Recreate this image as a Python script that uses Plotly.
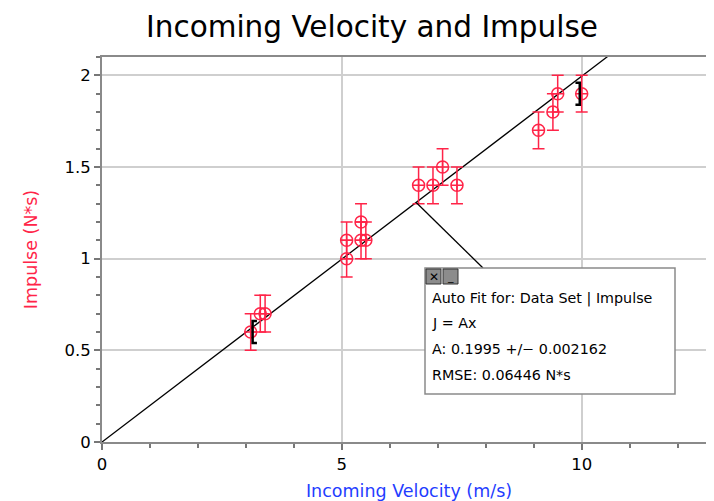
import plotly.graph_objects as go

# ---- data ----
velocity = [3.1, 3.3, 3.4, 5.1, 5.1, 5.4, 5.4, 5.5, 6.6, 6.9, 7.1, 7.4, 9.1, 9.4, 9.5, 10.0]
impulse  = [0.6, 0.7, 0.7, 1.0, 1.1, 1.2, 1.1, 1.1, 1.4, 1.4, 1.5, 1.4, 1.7, 1.8, 1.9, 1.9]
impulse_err = [0.1] * len(impulse)
fit_A = 0.1995
fit_A_err = 0.002162
fit_rmse = 0.06446
fit_range = [3.1, 10.0]
x_ticks = [0, 5, 10]
y_ticks = [0, 0.5, 1, 1.5, 2]

RED = "#ff2448"
BLUE = "#1f3dff"
FONT = "DejaVu Sans"

OFF = 8  # page body margin
W, H = 714, 501
# plot area in window pixels
PL, PR, PT, PB = 102, 716, 57, 442
L = PL - OFF
R = W - (PR - OFF)
T = PT - OFF
B = H - (PB - OFF)
XR = [0, 12.8]
YR = [0, 2.1]

def px_x(px):
    return XR[0] + (px - PL) / (PR - PL) * (XR[1] - XR[0])

def px_y(py):
    return YR[0] + (PB - py) / (PB - PT) * (YR[1] - YR[0])

fig = go.Figure()

# fit line
fit_x = [XR[0], XR[1]]
fit_y = [fit_A * v for v in fit_x]
fig.add_trace(go.Scatter(x=fit_x, y=fit_y, mode="lines",
                         line=dict(color="black", width=1.3), hoverinfo="skip"))

# data
fig.add_trace(go.Scatter(
    x=velocity, y=impulse, mode="markers",
    marker=dict(symbol="circle-cross-open", size=12, color=RED, line=dict(width=1.5, color=RED)),
    error_y=dict(type="data", array=impulse_err, visible=True, color=RED, thickness=1.5, width=6),
))

# fit range brackets
first_y = impulse[velocity.index(fit_range[0])]
last_y = impulse[velocity.index(fit_range[1])]
bh = 0.06
bw = 0.1
fig.add_trace(go.Scatter(
    x=[fit_range[0] + bw + 0.03, fit_range[0] + 0.04, fit_range[0] + 0.04, fit_range[0] + bw + 0.03],
    y=[first_y + bh, first_y + bh, first_y - bh, first_y - bh],
    mode="lines", line=dict(color="black", width=2.5), hoverinfo="skip"))
fig.add_trace(go.Scatter(
    x=[fit_range[1] - bw - 0.03, fit_range[1] - 0.04, fit_range[1] - 0.04, fit_range[1] - bw - 0.03],
    y=[last_y + bh, last_y + bh, last_y - bh, last_y - bh],
    mode="lines", line=dict(color="black", width=2.5), hoverinfo="skip"))

# annotation box geometry (window pixels)
bx0, by0, bx1, by1 = 425, 268, 675, 394
shapes = []
lead_x = 6.55
shapes.append(dict(type="line", xref="x", yref="y", x0=lead_x, y0=fit_A * lead_x,
                   x1=px_x(483), y1=px_y(by0), line=dict(color="black", width=1.3)))
shapes.append(dict(type="rect", xref="x", yref="y", x0=px_x(bx0), y0=px_y(by0), x1=px_x(bx1), y1=px_y(by1),
                   fillcolor="white", line=dict(color="#8a8a8a", width=1.5), layer="above"))
# buttons
for (a, b) in [(426, 441), (443, 458)]:
    shapes.append(dict(type="rect", xref="x", yref="y", x0=px_x(a), y0=px_y(269), x1=px_x(b), y1=px_y(284),
                       fillcolor="#8c8c8c", line=dict(color="#333", width=1), layer="above"))

annotations = [
    dict(x=px_x(433.5), y=px_y(276.5), xref="x", yref="y", text="✕", showarrow=False,
         font=dict(family=FONT, size=12, color="black")),
    dict(x=px_x(450.5), y=px_y(276.5), xref="x", yref="y", text="_", showarrow=False,
         font=dict(family=FONT, size=11, color="black")),
]
lines = ["Auto Fit for: Data Set | Impulse", "J = Ax",
         f"A: {fit_A} +/\u2212 {fit_A_err}", f"RMSE: {fit_rmse} N*s"]
line_y = [298, 323, 349, 375]
for t, yy in zip(lines, line_y):
    annotations.append(dict(x=px_x(430), y=px_y(yy), xref="x", yref="y", text=t, showarrow=False,
                            xanchor="left", yanchor="middle",
                            font=dict(family=FONT, size=14.3, color="black")))

fig.update_layout(
    width=W, height=H,
    margin=dict(l=L, r=R, t=T, b=B),
    paper_bgcolor="white", plot_bgcolor="white",
    showlegend=False,
    font=dict(family=FONT, size=15, color="black"),
    title=dict(text="Incoming Velocity and Impulse", xref="container", yref="container",
               x=(372 - OFF) / W, xanchor="center", y=1 - (27 - OFF) / H, yanchor="middle",
               font=dict(family=FONT, size=29.5, color="black")),
    shapes=shapes,
    annotations=annotations,
)
fig.update_xaxes(
    range=XR, tickvals=x_ticks, ticks="outside", ticklen=6, tickwidth=1.5, tickcolor="#777",
    showline=True, linecolor="#8a8a8a", linewidth=2, mirror=True,
    showgrid=True, gridcolor="#cfcfcf", gridwidth=1.5, zeroline=False,
    minor=dict(dtick=1, ticks="outside", ticklen=4, tickcolor="#777", showgrid=False),
    title=dict(text="Incoming Velocity (m/s)", font=dict(family=FONT, size=17.5, color=BLUE), standoff=12),
    tickfont=dict(size=16.5, color="black"),
)
fig.update_yaxes(
    range=YR, tickvals=y_ticks, ticks="outside", ticklen=6, tickwidth=1.5, tickcolor="#777",
    showline=True, linecolor="#8a8a8a", linewidth=2,
    showgrid=True, gridcolor="#cfcfcf", gridwidth=1.5, zeroline=False,
    minor=dict(dtick=0.1, ticks="outside", ticklen=4, tickcolor="#777", showgrid=False),
    title=dict(text="Impulse (N*s)", font=dict(family=FONT, size=17.5, color=RED), standoff=22),
    tickfont=dict(size=16.5, color="black"),
)

fig.write_html("out.html")
